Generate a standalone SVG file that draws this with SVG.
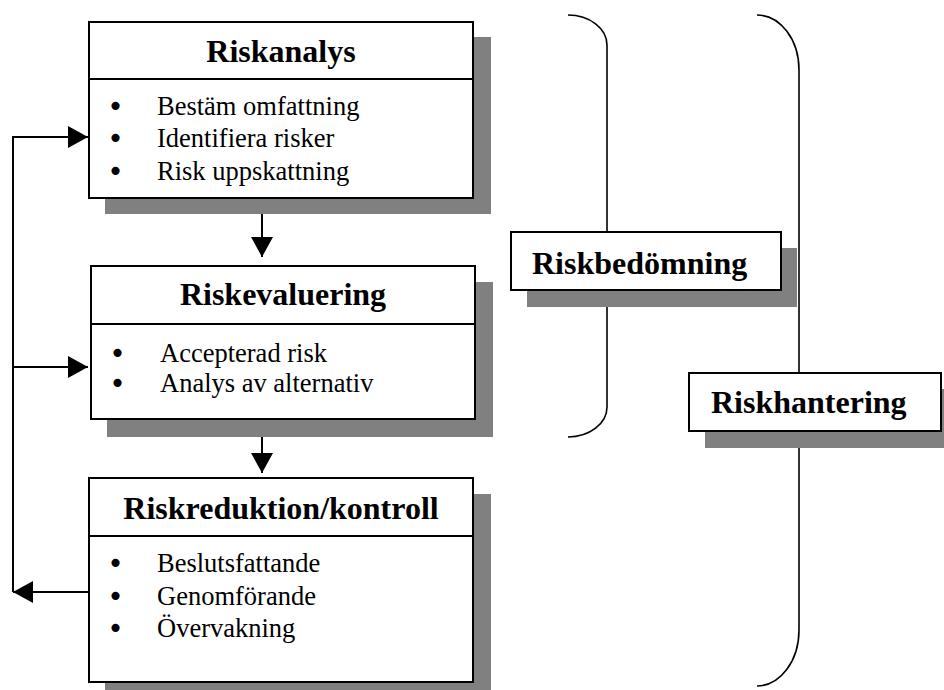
<svg xmlns="http://www.w3.org/2000/svg" width="944" height="690" viewBox="0 0 944 690">
  <style>
    .box { fill: #ffffff; stroke: #000000; stroke-width: 2; }
    .shadow { fill: #808080; stroke: none; }
    .div { stroke: #000000; stroke-width: 2; }
    .title { font-family: "Liberation Serif", "Times New Roman", serif; font-weight: bold; font-size: 32px; fill: #000000; }
    .item { font-family: "Liberation Serif", "Times New Roman", serif; font-size: 26.5px; fill: #000000; }
    .bullet { font-family: "DejaVu Sans", sans-serif; font-size: 28px; fill: #000000; text-anchor: middle; }
    .conn { fill: none; stroke: #000000; stroke-width: 2; }
    .brace { fill: none; stroke: #000000; stroke-width: 1.6; }
  </style>
  <defs>
    <marker id="arrow" viewBox="0 0 20 22" refX="20" refY="11" markerWidth="20" markerHeight="22" markerUnits="userSpaceOnUse" orient="auto">
      <path d="M0,0 L20,11 L0,22 Z" fill="#000000"/>
    </marker>
  </defs>

  <rect width="944" height="690" fill="#ffffff"/>

  <!-- braces grouping the phases -->
  <g id="braces">
    <path class="brace" d="M568,15 A39,30 0 0 1 607,45 V407 A39,30 0 0 1 568,437"/>
    <path class="brace" d="M757,15 A42,55 0 0 1 799,70 V630 A42,56 0 0 1 757,686"/>
  </g>

  <!-- connectors -->
  <g id="connectors">
    <path class="conn" d="M262,199 V257" marker-end="url(#arrow)"/>
    <path class="conn" d="M262,420 V473" marker-end="url(#arrow)"/>
    <path class="conn" d="M89,592 H13" marker-end="url(#arrow)"/>
    <path class="conn" d="M13,592 V137 H88" marker-end="url(#arrow)"/>
    <path class="conn" d="M13,367 H88" marker-end="url(#arrow)"/>
  </g>

  <g id="riskanalys">
    <rect class="shadow" x="105" y="37" width="386" height="177"/>
    <rect class="box" x="89" y="22" width="384" height="176"/>
    <line class="div" x1="89" y1="79" x2="473" y2="79"/>
    <text class="title" x="281" y="62" text-anchor="middle">Riskanalys</text>
    <text class="bullet" x="115.5" y="116">•</text>
    <text class="item" x="157" y="115">Bestäm omfattning</text>
    <text class="bullet" x="115.5" y="148">•</text>
    <text class="item" x="157" y="147">Identifiera risker</text>
    <text class="bullet" x="115.5" y="181">•</text>
    <text class="item" x="157" y="180">Risk uppskattning</text>
  </g>

  <g id="riskevaluering">
    <rect class="shadow" x="107" y="282" width="386" height="155"/>
    <rect class="box" x="91" y="266" width="384" height="153"/>
    <line class="div" x1="91" y1="324" x2="475" y2="324"/>
    <text class="title" x="283" y="305" text-anchor="middle">Riskevaluering</text>
    <text class="bullet" x="117.5" y="363">•</text>
    <text class="item" x="160" y="362">Accepterad risk</text>
    <text class="bullet" x="117.5" y="393">•</text>
    <text class="item" x="160" y="392">Analys av alternativ</text>
  </g>

  <g id="riskreduktion">
    <rect class="shadow" x="105" y="494" width="386" height="200"/>
    <rect class="box" x="89" y="478" width="384" height="204"/>
    <line class="div" x1="89" y1="536" x2="473" y2="536"/>
    <text class="title" x="281" y="519" text-anchor="middle">Riskreduktion/kontroll</text>
    <text class="bullet" x="115.5" y="573">•</text>
    <text class="item" x="157" y="572">Beslutsfattande</text>
    <text class="bullet" x="115.5" y="606">•</text>
    <text class="item" x="157" y="605">Genomförande</text>
    <text class="bullet" x="115.5" y="638">•</text>
    <text class="item" x="157" y="637">Övervakning</text>
  </g>

  <g id="riskbedomning">
    <rect class="shadow" x="527" y="248" width="270" height="59"/>
    <rect class="box" x="511" y="232" width="270" height="58"/>
    <text class="title" x="532" y="274">Riskbedömning</text>
  </g>

  <g id="riskhantering">
    <rect class="shadow" x="705" y="389" width="252" height="59"/>
    <rect class="box" x="689" y="373" width="252" height="58"/>
    <text class="title" x="711" y="413">Riskhantering</text>
  </g>
</svg>
